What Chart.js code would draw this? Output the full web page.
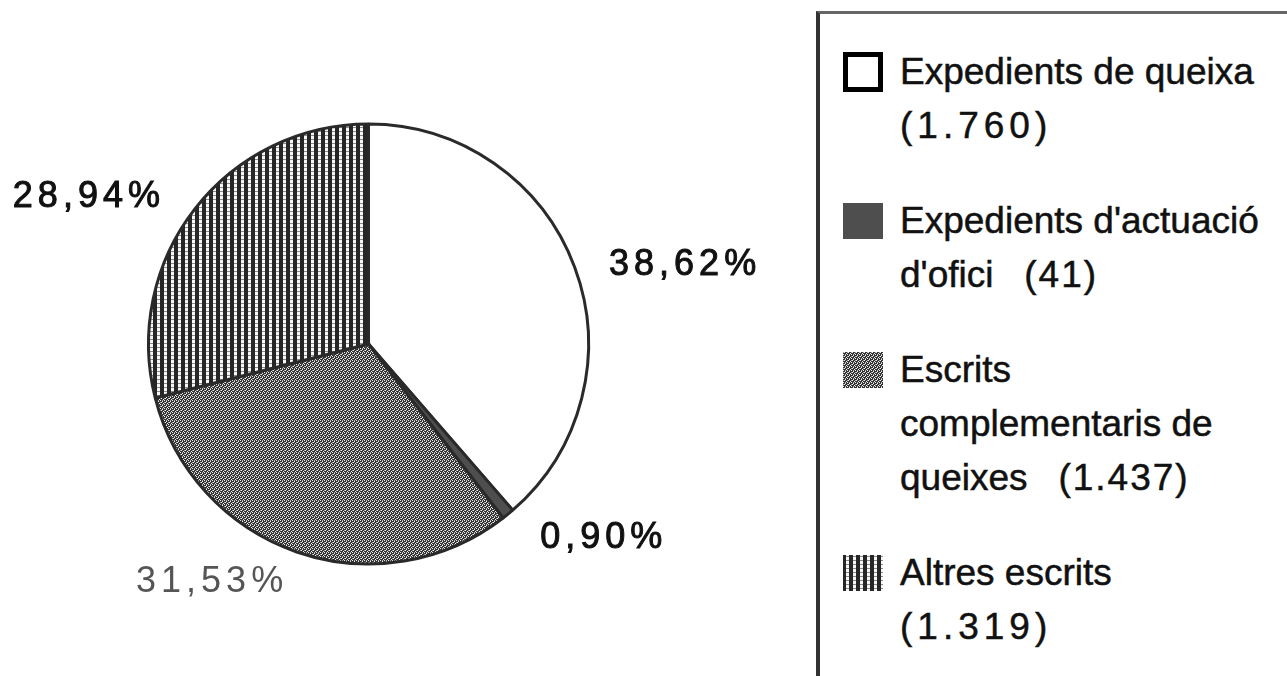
<!DOCTYPE html>
<html>
<head>
<meta charset="utf-8">
<script src="https://cdn.jsdelivr.net/npm/chart.js@4.4.0/dist/chart.umd.min.js"></script>
<style>
  html, body { margin: 0; padding: 0; background: #fff; }
  body { width: 1287px; height: 676px; position: relative; overflow: hidden; font-family: "Liberation Sans", Arial, sans-serif; }
  #pieWrap { position: absolute; left: 0; top: 0; width: 800px; height: 676px; }
  #legend {
    position: absolute; left: 816px; top: 11px; right: 0; bottom: 0;
    border-left: 4px solid #333; border-top: 3px solid #666;
    padding-top: 31px; box-sizing: border-box;
  }
  .item { position: relative; padding-left: 80px; margin-bottom: 41px; color: #111; font-size: 37px; line-height: 54px; -webkit-text-stroke: 0.5px #111; }
  .item canvas { position: absolute; left: 23px; top: 7px; }
  .num { letter-spacing: 5px; }
  .cnt { letter-spacing: 2px; }
</style>
</head>
<body>
<div id="pieWrap"><canvas id="pie"></canvas></div>
<div id="legend"></div>
<script>
const categories = ["Expedients de queixa", "Expedients d'actuació d'ofici", "Escrits complementaris de queixes", "Altres escrits"];
const values = [1760, 41, 1437, 1319];
// how each legend entry breaks over lines, and whether the count goes on its own line
const legendLines = [["Expedients de queixa"], ["Expedients d'actuació", "d'ofici"], ["Escrits", "complementaris de", "queixes"], ["Altres escrits"]];
const countOwnLine = [true, false, false, true];
const labelColors = ["#111", "#111", "#555", "#111"];

function tile(w, h, draw) {
  const c = document.createElement("canvas");
  c.width = w; c.height = h;
  draw(c.getContext("2d"));
  return c;
}

// fine diagonal dot screen
const crossTile = tile(4, 4, g => {
  g.fillStyle = "#333"; g.fillRect(0, 0, 4, 4);
  g.fillStyle = "#f0f0f0";
  [[0, 0], [2, 1], [1, 2], [3, 3]].forEach(([x, y]) => g.fillRect(x, y, 1, 1));
  g.fillStyle = "#a8a8a8";
  [[2, 0], [0, 2]].forEach(([x, y]) => g.fillRect(x, y, 1, 1));
});

// vertical stripes with dotted white gaps
const stripeTile = tile(7, 4, g => {
  g.fillStyle = "#262626"; g.fillRect(0, 0, 7, 4);
  g.fillStyle = "#f6f6f6"; g.fillRect(3, 0, 3, 3);
  g.fillStyle = "#8a8a8a"; g.fillRect(3, 3, 3, 1);
});

const canvas = document.getElementById("pie");
const ctx = canvas.getContext("2d");
const fills = ["#ffffff", "#4e4e4e", ctx.createPattern(crossTile, "repeat"), ctx.createPattern(stripeTile, "repeat")];

const total = values.reduce((a, b) => a + b, 0);
const pct = v => (v / total * 100).toFixed(2).replace(".", ",") + "%";
const fmtCount = v => String(v).replace(/\B(?=(\d{3})+(?!\d))/g, ".");

// percentage labels placed around the pie, offsets in units of the radius
const labelOffsets = [[1.43, -0.36], [1.06, 0.88], [-0.72, 1.08], [-1.28, -0.67]];
const pctLabels = {
  id: "pctLabels",
  afterDatasetsDraw(chart) {
    const c = chart.ctx;
    chart.getDatasetMeta(0).data.forEach((arc, i) => {
      const r = arc.outerRadius;
      const x = arc.x + labelOffsets[i][0] * r + 2;
      const y = arc.y + labelOffsets[i][1] * r;
      const txt = pct(values[i]);
      c.save();
      c.font = "36px 'Liberation Sans', Arial, sans-serif";
      c.letterSpacing = "5px";
      c.fillStyle = labelColors[i];
      c.strokeStyle = labelColors[i];
      c.lineWidth = i === 2 ? 0 : 1;
      c.textAlign = "center";
      c.textBaseline = "middle";
      c.fillText(txt, x, y);
      if (i !== 2) c.strokeText(txt, x, y);
      c.restore();
    });
  }
};

new Chart(canvas, {
  type: "pie",
  data: {
    labels: categories,
    datasets: [{
      data: values,
      backgroundColor: fills,
      borderColor: "#2a2a2a",
      borderWidth: 3
    }]
  },
  options: {
    responsive: true,
    maintainAspectRatio: false,
    animation: false,
    layout: { padding: { left: 147, right: 210, top: 122, bottom: 110 } },
    plugins: { legend: { display: false }, tooltip: { enabled: false } }
  },
  plugins: [pctLabels]
});

// legend box on the right
const legend = document.getElementById("legend");
categories.forEach((name, i) => {
  const item = document.createElement("div");
  item.className = "item";
  const sw = document.createElement("canvas");
  sw.width = 40; sw.height = 40;
  const g = sw.getContext("2d");
  if (i === 0) {
    g.fillStyle = "#000"; g.fillRect(0, 0, 40, 40);
    g.fillStyle = "#fff"; g.fillRect(5, 5, 30, 30);
  } else {
    g.fillStyle = i === 1 ? "#4e4e4e" : g.createPattern(i === 2 ? crossTile : stripeTile, "repeat");
    g.fillRect(0, 2, 40, 36);
  }
  item.appendChild(sw);
  const lines = legendLines[i];
  const count = "(" + fmtCount(values[i]) + ")";
  lines.forEach((ln, k) => {
    const d = document.createElement("div");
    d.textContent = ln;
    if (k === lines.length - 1 && !countOwnLine[i]) {
      d.appendChild(document.createTextNode("\u00a0\u00a0\u00a0"));
      const s = document.createElement("span");
      s.className = "cnt";
      s.textContent = count;
      d.appendChild(s);
    }
    item.appendChild(d);
  });
  if (countOwnLine[i]) {
    const d = document.createElement("div");
    d.className = "num";
    d.textContent = count;
    item.appendChild(d);
  }
  legend.appendChild(item);
});
</script>
</body>
</html>
